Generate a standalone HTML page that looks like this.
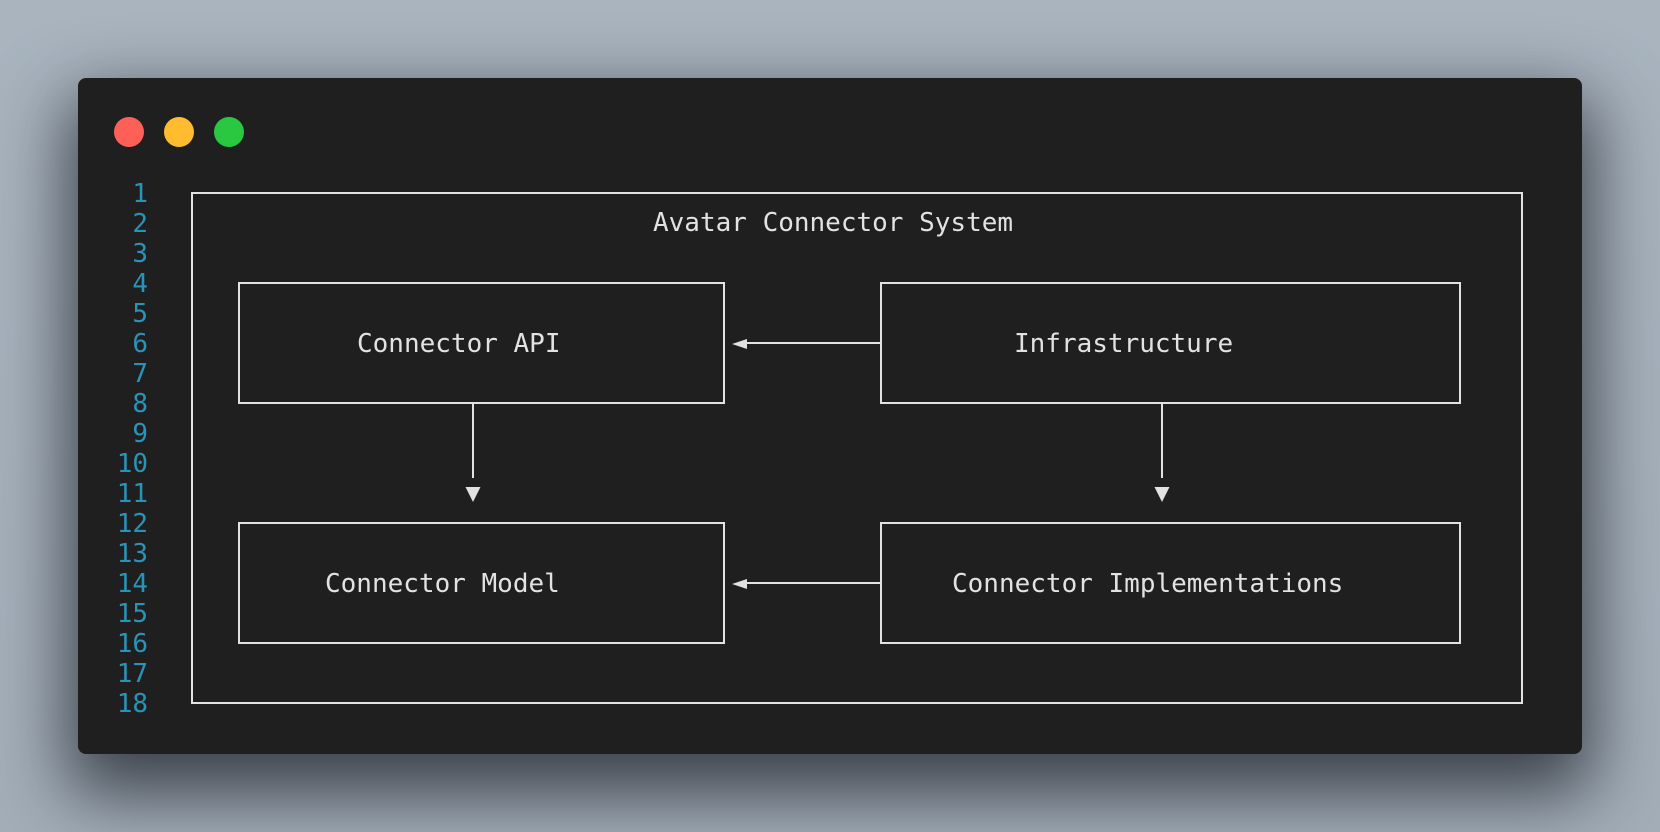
<!DOCTYPE html>
<html><head><meta charset="utf-8"><style>
html,body{margin:0;padding:0;width:1660px;height:832px;overflow:hidden;background:linear-gradient(180deg,#a9b4bf,#a3aeb9);}
#win{position:absolute;left:78px;top:78px;width:1504px;height:676px;border-radius:8px;background:#1f1f1f;box-shadow:0 30px 70px 10px rgba(25,30,38,0.75);}
</style></head><body>
<div id="win"></div>
<svg width="1660" height="832" xmlns="http://www.w3.org/2000/svg" style="position:absolute;left:0;top:0">
<circle cx="129" cy="132" r="15" fill="#fe5f57"/>
<circle cx="179" cy="132" r="15" fill="#febc2e"/>
<circle cx="229" cy="132" r="15" fill="#29c840"/>
<g font-family="'DejaVu Sans Mono','Liberation Mono',monospace" font-size="26" fill="#2a93b8" text-anchor="end">
<text x="148" y="202">1</text><text x="148" y="232">2</text><text x="148" y="262">3</text><text x="148" y="292">4</text><text x="148" y="322">5</text><text x="148" y="352">6</text><text x="148" y="382">7</text><text x="148" y="412">8</text><text x="148" y="442">9</text><text x="148" y="472">10</text><text x="148" y="502">11</text><text x="148" y="532">12</text><text x="148" y="562">13</text><text x="148" y="592">14</text><text x="148" y="622">15</text><text x="148" y="652">16</text><text x="148" y="682">17</text><text x="148" y="712">18</text>
</g>
<g fill="none" stroke="#e2e2e2" stroke-width="2">
<rect x="192" y="193" width="1330" height="510"/>
<rect x="239" y="283" width="485" height="120"/>
<rect x="881" y="283" width="579" height="120"/>
<rect x="239" y="523" width="485" height="120"/>
<rect x="881" y="523" width="579" height="120"/>
<line x1="881" y1="343" x2="745" y2="343"/>
<line x1="881" y1="583" x2="745" y2="583"/>
<line x1="473" y1="403" x2="473" y2="478"/>
<line x1="1162" y1="403" x2="1162" y2="478"/>
</g>
<g fill="#e2e2e2">
<polygon points="732,344 747,339 747,349"/>
<polygon points="732,584 747,579 747,589"/>
<polygon points="465.5,487 480.5,487 473,502"/>
<polygon points="1154.5,487 1169.5,487 1162,502"/>
</g>
<g font-family="'DejaVu Sans Mono','Liberation Mono',monospace" font-size="26" fill="#e2e2e2">
<text x="653" y="231">Avatar Connector System</text>
<text x="357" y="352">Connector API</text>
<text x="1014" y="352">Infrastructure</text>
<text x="325" y="592">Connector Model</text>
<text x="952" y="592">Connector Implementations</text>
</g>
</svg>
</body></html>
